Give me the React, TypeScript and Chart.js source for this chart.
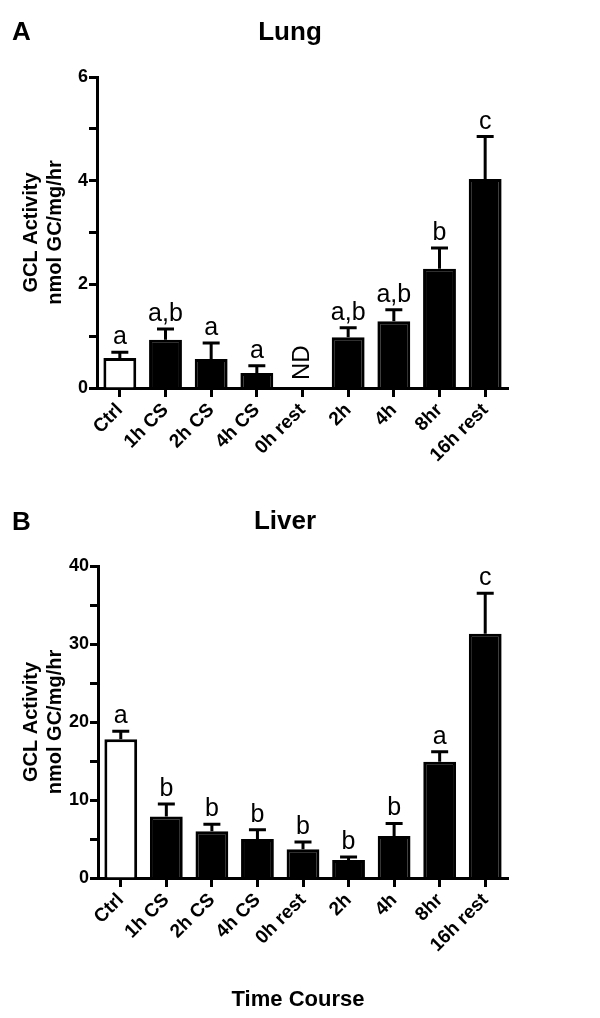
import React, { useEffect, useRef } from "react";
import { Chart, registerables } from "chart.js";

Chart.register(...registerables);

const FONT = '"Liberation Sans", Arial, Helvetica, sans-serif';
Chart.defaults.font.family = FONT;

const categories = ["Ctrl", "1h CS", "2h CS", "4h CS", "0h rest", "2h", "4h", "8hr", "16h rest"];

const lungMean: (number | null)[] = [0.58, 0.93, 0.56, 0.29, null, 0.98, 1.29, 2.3, 4.03];
const lungSem: (number | null)[] = [0.11, 0.21, 0.31, 0.14, null, 0.18, 0.22, 0.4, 0.82];
const lungLetters = ["a", "a,b", "a", "a", "", "a,b", "a,b", "b", "c"];
const lungNotDetected = [false, false, false, false, true, false, false, false, false];
const lungYTicks = { min: 0, max: 6, step: 1, labelEvery: 2 };

const liverMean: (number | null)[] = [17.8, 7.9, 6.0, 5.0, 3.7, 2.3, 5.4, 14.9, 31.3];
const liverSem: (number | null)[] = [1.0, 1.6, 0.9, 1.2, 0.9, 0.4, 1.6, 1.3, 5.2];
const liverLetters = ["a", "b", "b", "b", "b", "b", "b", "a", "c"];
const liverNotDetected = [false, false, false, false, false, false, false, false, false];
const liverYTicks = { min: 0, max: 40, step: 5, labelEvery: 10 };

const barFill = ["#ffffff", "#000000", "#000000", "#000000", "#000000", "#000000", "#000000", "#000000", "#000000"];

const yTitle = ["GCL Activity", "nmol GC/mg/hr"];

type PanelProps = {
  top: number;
  height: number;
  panel: string;
  title: string;
  titleX: number;
  titleBaseline: number;
  means: (number | null)[];
  sems: (number | null)[];
  letters: string[];
  nd: boolean[];
  yt: { min: number; max: number; step: number; labelEvery: number };
  yWidth: number;
  padTop: number;
  xTitle?: string;
};

function Panel(p: PanelProps) {
  const ref = useRef<HTMLCanvasElement | null>(null);
  useEffect(() => {
    if (!ref.current) return;
    const chartBottomFromTop = 388;
    const xHeight = p.height - chartBottomFromTop;

    const annot = {
      id: "annot" + p.panel,
      afterDatasetsDraw(chart: any) {
        const ctx = chart.ctx;
        const ys = chart.scales.y;
        const xs = chart.scales.x;
        ctx.save();
        ctx.strokeStyle = "#000";
        ctx.fillStyle = "#000";
        ctx.lineWidth = 3;
        for (let i = 0; i < categories.length; i++) {
          const m = p.means[i];
          const s = p.sems[i];
          const cx = xs.getPixelForValue(i);
          if (m != null && s != null) {
            const barTop = ys.getPixelForValue(m);
            const errTop = ys.getPixelForValue(m + s);
            ctx.beginPath();
            ctx.moveTo(cx, barTop);
            ctx.lineTo(cx, errTop);
            ctx.moveTo(cx - 8.5, errTop);
            ctx.lineTo(cx + 8.5, errTop);
            ctx.stroke();
            if (p.letters[i]) {
              ctx.font = `25px ${FONT}`;
              ctx.textAlign = "center";
              ctx.textBaseline = "alphabetic";
              ctx.fillText(p.letters[i], cx, errTop - 8);
            }
          }
          if (p.nd[i]) {
            ctx.save();
            ctx.translate(cx, ys.getPixelForValue(0) - 8);
            ctx.rotate(-Math.PI / 2);
            ctx.font = `24px ${FONT}`;
            ctx.textAlign = "left";
            ctx.textBaseline = "middle";
            ctx.fillText("ND", 0, 0);
            ctx.restore();
          }
        }
        ctx.font = `bold 26px ${FONT}`;
        ctx.textAlign = "left";
        ctx.textBaseline = "alphabetic";
        ctx.fillText(p.panel, 12, 40);
        ctx.textAlign = "center";
        ctx.fillText(p.title, p.titleX, p.titleBaseline);
        if (p.xTitle) {
          ctx.font = `bold 22px ${FONT}`;
          ctx.textBaseline = "middle";
          ctx.fillText(p.xTitle, 298, p.height - 18);
        }
        ctx.restore();
      },
    };

    const chart = new Chart(ref.current, {
      type: "bar",
      data: {
        labels: categories,
        datasets: [
          {
            data: p.means as any,
            backgroundColor: barFill,
            borderColor: "#000",
            borderWidth: 3,
            barPercentage: 0.72,
            categoryPercentage: 1,
          },
        ],
      },
      options: {
        responsive: false,
        animation: false,
        layout: { padding: { top: p.padTop, right: 92, left: 0, bottom: 0 } },
        plugins: {
          legend: { display: false },
          tooltip: { enabled: false },
          title: { display: false },
        },
        scales: {
          x: {
            offset: true,
            grid: {
              display: true,
              drawOnChartArea: false,
              offset: false,
              tickLength: 9,
              tickWidth: 3,
              tickColor: "#000",
            },
            border: { display: true, color: "#000", width: 3 },
            ticks: {
              autoSkip: false,
              maxRotation: 45,
              minRotation: 45,
              color: "#000",
              padding: 2,
              font: { size: 19, weight: "bold" },
            },
            afterFit: (s: any) => {
              s.height = xHeight;
            },
          } as any,
          y: {
            min: p.yt.min,
            max: p.yt.max,
            grid: {
              display: true,
              drawOnChartArea: false,
              tickLength: 8,
              tickWidth: 3,
              tickColor: "#000",
            },
            border: { display: true, color: "#000", width: 3 },
            ticks: {
              stepSize: p.yt.step,
              color: "#000",
              padding: 1,
              font: { size: 18, weight: "bold" },
              callback: (v: any) => (Number(v) % p.yt.labelEvery === 0 ? String(v) : ""),
            },
            title: {
              display: true,
              text: yTitle,
              color: "#000",
              font: { size: 20, weight: "bold" },
              padding: { top: 19, bottom: 0 },
            },
            afterFit: (s: any) => {
              s.width = p.yWidth;
            },
          } as any,
        },
      },
      plugins: [annot],
    });
    return () => chart.destroy();
  }, []);
  return (
    <canvas
      ref={ref}
      width={600}
      height={p.height}
      style={{ position: "absolute", left: 0, top: p.top, width: 600, height: p.height, display: "block" }}
    />
  );
}

export default function App() {
  return (
    <div style={{ position: "absolute", left: 0, top: 0, width: 600, height: 1018, background: "#fff" }}>
      <Panel
        top={0}
        height={490}
        panel="A"
        title="Lung"
        titleX={290}
        titleBaseline={40}
        means={lungMean}
        sems={lungSem}
        letters={lungLetters}
        nd={lungNotDetected}
        yt={lungYTicks}
        yWidth={97}
        padTop={77}
      />
      <Panel
        top={490}
        height={528}
        panel="B"
        title="Liver"
        titleX={285}
        titleBaseline={39}
        means={liverMean}
        sems={liverSem}
        letters={liverLetters}
        nd={liverNotDetected}
        yt={liverYTicks}
        yWidth={98}
        padTop={76}
        xTitle="Time Course"
      />
    </div>
  );
}
